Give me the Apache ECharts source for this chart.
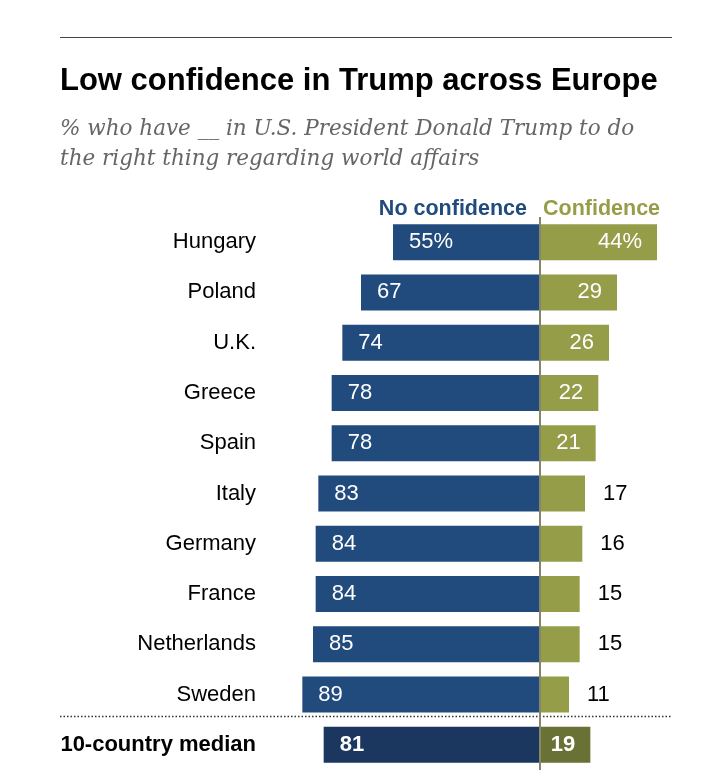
<!DOCTYPE html>
<html>
<head>
<meta charset="utf-8">
<script src="https://cdn.jsdelivr.net/npm/echarts@6/dist/echarts.min.js"></script>
<style>
  html, body { margin: 0; padding: 0; background: #fff; }
  #chart { width: 728px; height: 778px; }
</style>
</head>
<body>
<div id="chart"></div>
<script>
// data
const countries = ['Hungary', 'Poland', 'U.K.', 'Greece', 'Spain', 'Italy', 'Germany', 'France', 'Netherlands', 'Sweden', '10-country median'];
const noConfidence = [55, 67, 74, 78, 78, 83, 84, 84, 85, 89, 81];
const confidence = [44, 29, 26, 22, 21, 17, 16, 15, 15, 11, 19];

const BLUE = '#214a7d';
const OLIVE = '#959d48';
const BLUE_DARK = '#1b365f';
const OLIVE_DARK = '#6a7135';
const lastIdx = countries.length - 1;

const chart = echarts.init(document.getElementById('chart'));

const noData = noConfidence.map((v, i) => ({
  value: -v,
  itemStyle: { color: i === lastIdx ? BLUE_DARK : BLUE },
  label: { fontWeight: i === lastIdx ? 'bold' : 'normal' }
}));

const yesData = confidence.map((v, i) => {
  const inside = v >= 20 || i === lastIdx;
  return {
    value: v,
    itemStyle: { color: i === lastIdx ? OLIVE_DARK : OLIVE },
    label: {
      position: inside ? 'insideRight' : 'right',
      distance: inside ? 15 : 18,
      color: inside ? '#fff' : '#000',
      fontWeight: i === lastIdx ? 'bold' : 'normal'
    }
  };
});

const option = {
  animation: false,
  grid: { left: 273, width: 400, top: 217, height: 553 },
  xAxis: {
    type: 'value', min: -100, max: 50,
    show: false
  },
  yAxis: {
    type: 'category', inverse: true, data: countries,
    axisLine: { show: false }, axisTick: { show: false },
    axisLabel: {
      margin: 17, fontSize: 22, color: '#000',
      fontFamily: 'Liberation Sans, Arial, sans-serif',
      formatter: (v, i) => i === lastIdx ? '{b|' + v + '}' : v,
      rich: { b: { fontSize: 22, fontWeight: 'bold', color: '#000', fontFamily: 'Liberation Sans Narrow, Liberation Sans, sans-serif' } }
    }
  },
  series: [
    {
      name: 'No confidence', type: 'bar', data: noData,
      barWidth: 36, barGap: '-100%',
      label: {
        show: true, position: 'insideLeft', distance: 16,
        color: '#fff', fontSize: 22, fontFamily: 'Liberation Sans, Arial, sans-serif',
        formatter: p => Math.abs(p.value) + (p.dataIndex === 0 ? '%' : '')
      },
      markLine: {
        silent: true, symbol: 'none',
        lineStyle: { color: '#86866a', width: 2, type: 'solid' },
        label: { show: false },
        data: [{ xAxis: 0 }]
      }
    },
    {
      name: 'Confidence', type: 'bar', data: yesData,
      barWidth: 36,
      label: {
        show: true, fontSize: 22, fontFamily: 'Liberation Sans, Arial, sans-serif',
        formatter: p => p.value + (p.dataIndex === 0 ? '%' : '')
      }
    }
  ],
  graphic: [
    { type: 'line', shape: { x1: 60, y1: 37.5, x2: 672, y2: 37.5 }, style: { stroke: '#444', lineWidth: 1 } },
    { type: 'text', left: 60, top: 66, style: { text: 'Low confidence in Trump across Europe', font: 'bold 31px "Liberation Sans", sans-serif', fill: '#000' } },
    { type: 'text', left: 60, top: 114, style: { text: '% who have __ in U.S. President Donald Trump to do\nthe right thing regarding world affairs', font: 'italic 21.5px "DejaVu Serif", serif', lineHeight: 30, fill: '#666' } },
    { type: 'text', right: 201, top: 198, style: { text: 'No confidence', font: 'bold 21.5px "Liberation Sans", sans-serif', fill: BLUE } },
    { type: 'text', left: 543, top: 198, style: { text: 'Confidence', font: 'bold 21.5px "Liberation Sans", sans-serif', fill: OLIVE } },
    { type: 'line', shape: { x1: 60, y1: 716.5, x2: 672, y2: 716.5 }, style: { stroke: '#333', lineWidth: 1.5, lineDash: [1.5, 2] } }
  ]
};

chart.setOption(option);
</script>
</body>
</html>
